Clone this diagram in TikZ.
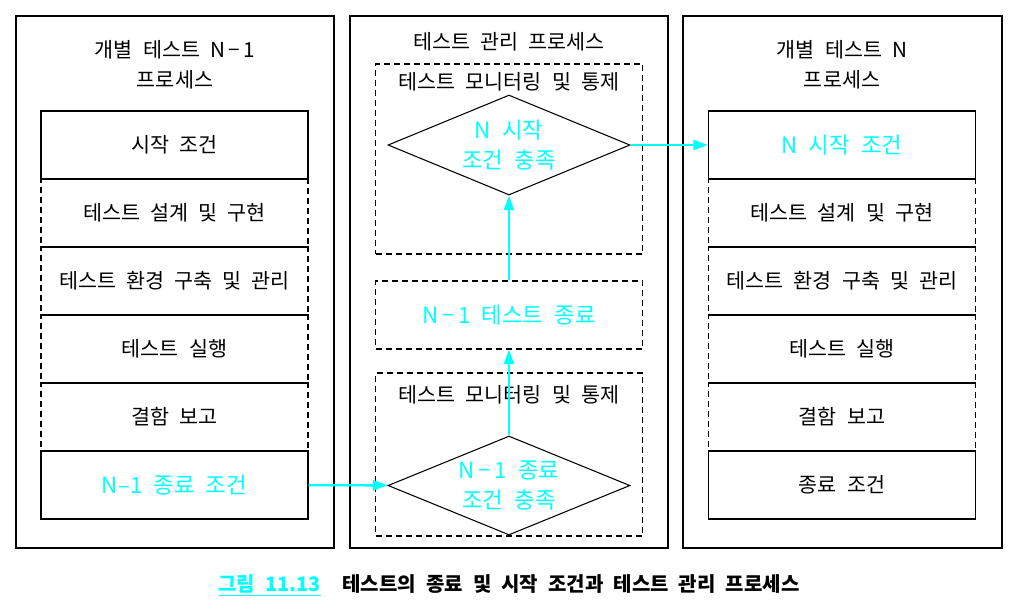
\documentclass[tikz,border=0pt]{standalone}
\usepackage{fontspec}
\setmainfont{Noto Sans CJK KR}[WordSpace=2.2]
\usetikzlibrary{shapes.geometric,arrows.meta}
\definecolor{aqua}{RGB}{0,255,255}
\begin{document}
\begin{tikzpicture}[x=0.75pt, y=-0.75pt, font=\fontsize{15.5pt}{22.5pt}\selectfont]
	\tikzstyle{outer}=[draw=black, line width=0.9pt]
	\tikzstyle{hot}=[text=aqua, font=\fontsize{16.8pt}{22.5pt}\selectfont]
	\tikzstyle{solidrow}=[rectangle, draw=black, line width=0.8pt, minimum width=200.25pt, minimum height=51pt, inner sep=0pt]
	\tikzstyle{dashrow}=[rectangle, draw=black, line width=0.8pt, dash pattern=on 4.5pt off 3pt, minimum width=200.25pt, minimum height=51pt, inner sep=0pt]
	\tikzstyle{check}=[diamond, draw=black, line width=0.8pt, aspect=2.42, minimum width=181.5pt, minimum height=75pt, inner sep=0pt, align=center, hot]
	\tikzstyle{flow}=[-{Triangle[length=11pt, width=7.5pt]}, draw=aqua, line width=1.8pt]
	\useasboundingbox (0, 0) rectangle (1019, 612);

	\draw [outer] (16, 16) rectangle (334, 548);
	\draw [outer] (350, 16) rectangle (668, 548);
	\draw [outer] (683, 16) rectangle (1002, 548);

	\draw node at (175, 65) (ltitle) [align=center] {개별 테스트 N\,−\,1\\프로세스};
	\draw node at (509, 42) (mtitle) {테스트 관리 프로세스};
	\draw node at (842, 65) (rtitle) [align=center] {개별 테스트 N\\프로세스};

	\draw node at (174.5, 213) [dashrow] (ldesign) {테스트 설계 및 구현};
	\draw node at (174.5, 281) [dashrow] (lenv) {테스트 환경 구축 및 관리};
	\draw node at (174.5, 349) [dashrow] (lrun) {테스트 실행};
	\draw node at (174.5, 417) [dashrow] (lbug) {결함 보고};
	\draw node at (174.5, 145) [solidrow] (lstart) {시작 조건};
	\draw node at (174.5, 485) [solidrow, hot] (lend) {N–1 종료 조건};

	\draw node at (842, 213) [dashrow] (rdesign) {테스트 설계 및 구현};
	\draw node at (842, 281) [dashrow] (renv) {테스트 환경 구축 및 관리};
	\draw node at (842, 349) [dashrow] (rrun) {테스트 실행};
	\draw node at (842, 417) [dashrow] (rbug) {결함 보고};
	\draw node at (842, 145) [solidrow, hot] (rstart) {N 시작 조건};
	\draw node at (842, 485) [solidrow] (rend) {종료 조건};

	\draw node at (509, 159) [dashrow, minimum height=142.5pt] (mon1) {};
	\draw node at (509, 82) (mon1label) {테스트 모니터링 및 통제};
	\draw node at (509, 315) [dashrow, hot] (mdone) {N\,−\,1 테스트 종료};
	\draw node at (509, 454.5) [dashrow, minimum height=122.25pt] (mon2) {};
	\draw node at (509, 395) (mon2label) {테스트 모니터링 및 통제};
	\draw node at (509, 145) [check] (nstart) {N 시작\\조건 충족};
	\draw node at (509, 485.5) [check, minimum height=74.25pt] (nend) {N\,−\,1 종료\\조건 충족};

	\draw [flow] (lend) -- (nend);
	\draw [flow] (nend) -- (mdone);
	\draw [flow] (mdone) -- (nstart);
	\draw [flow] (nstart) -- (rstart);

	\draw node at (509, 585) (caption) {\bfseries\fontsize{15pt}{18pt}\selectfont\textcolor{aqua}{\underline{그림 11.13}}\hspace{16pt}테스트의 종료 및 시작 조건과 테스트 관리 프로세스};
\end{tikzpicture}
\end{document}
